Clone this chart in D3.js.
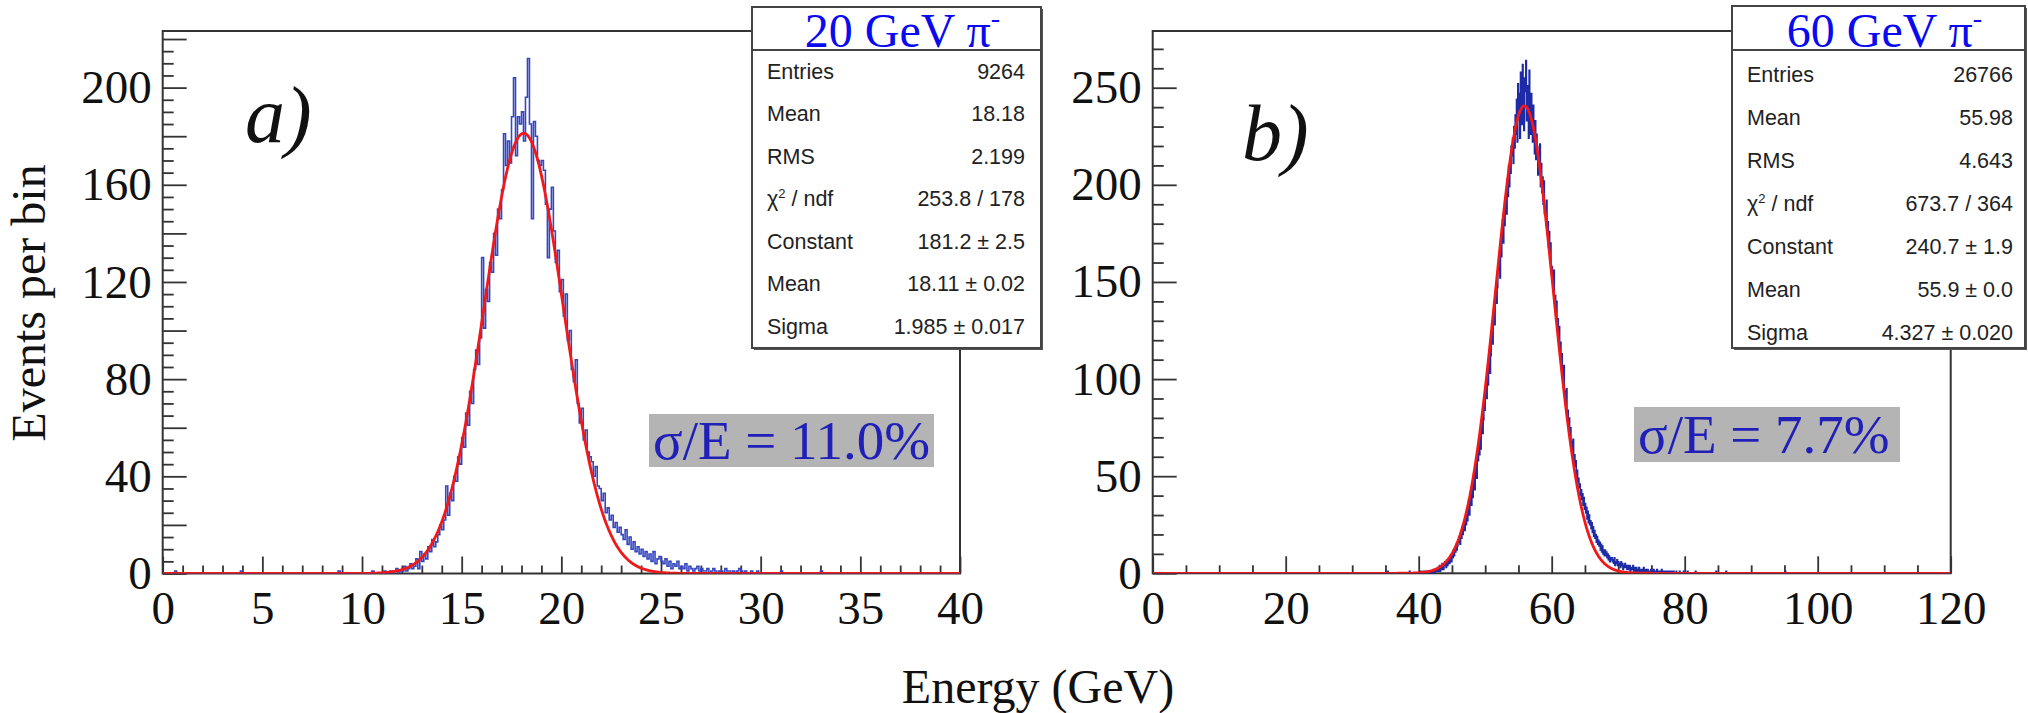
<!DOCTYPE html>
<html><head><meta charset="utf-8">
<script src="https://cdn.jsdelivr.net/npm/d3@7"></script>
<style>body{margin:0;background:#fff}svg{display:block}</style>
</head><body>
<svg id="c" width="2028" height="713"></svg>
<script>
// ---------------- DATA ----------------
const binWidth = 0.1;

// Panel a: 20 GeV pi-, bins of 0.1 GeV starting at 10.0 GeV
const histA_start = 10.0;
const histA_counts = [
 0,0,0,0,0,1,0,0,0,0,
 0,1,0,0,1,0,1,2,0,1,
 1,3,1,2,4,2,3,6,2,9,
 5,8,6,11,9,14,11,13,16,20,
 18,22,36,24,33,30,40,38,48,45,
 56,52,66,61,75,70,84,92,86,97,
 130,101,117,112,128,124,140,131,150,146,
 158,181,168,178,169,188,204,172,188,185,
 190,178,196,212,185,146,186,180,170,168,
 170,166,152,130,150,159,141,128,133,116,
 121,106,115,96,100,84,79,88,70,62,
 68,55,59,50,48,46,40,44,36,35,
 30,33,25,27,22,24,19,21,17,19,
 16,14,18,12,15,10,13,9,11,8,
 10,7,9,6,8,5,9,4,6,7,
 5,4,6,3,5,2,4,3,5,2,
 3,2,4,1,3,2,1,2,3,1,
 2,1,1,2,0,1,2,1,0,1,
 1,0,2,1,1,0,1,0,1,2,
 1,0,1,0,0,1,0,0,1,0
];
const histA_singles = [0.6, 3.9, 8.8, 31.0, 33.0];

// Panel b: 60 GeV pi-, bins of 0.1 GeV starting at 40.0 GeV
const histB_start = 40.0;
const histB_counts = [
 0,0,0,1,0,0,0,1,0,0,
 0,1,0,0,0,1,0,0,1,0,
 1,0,2,1,0,1,2,1,3,1,
 2,4,1,3,2,5,3,2,4,6,
 5,3,7,4,6,8,5,9,7,6,
 10,8,12,9,13,11,15,12,14,17,
 16,19,15,21,18,24,20,23,27,22,
 28,25,31,27,33,38,30,36,41,35,
 44,39,47,50,43,56,52,49,60,58,
 66,61,70,64,75,82,72,79,88,84,
 93,99,90,104,97,108,115,103,112,121,
 124,118,131,137,128,142,150,139,147,156,
 158,165,152,171,163,175,182,170,186,179,
 190,197,185,203,194,210,199,214,206,220,
 215,224,211,230,219,236,226,244,222,252,
 238,247,224,258,241,231,262,245,228,255,
 248,264,233,251,243,224,259,240,226,247,
 235,222,241,228,216,233,213,226,220,205,
 216,208,221,199,211,196,204,190,202,185,
 188,179,192,175,181,168,176,161,170,155,
 158,150,147,156,139,143,133,140,126,131,
 122,127,115,119,108,113,104,100,107,94,
 92,86,95,81,84,77,80,71,75,68,
 66,62,69,57,61,55,58,50,53,47,
 49,44,46,40,43,38,41,35,39,33,
 36,31,34,28,32,26,30,25,27,23,
 26,21,24,19,22,18,20,16,19,15,
 17,14,16,12,15,11,14,10,12,9,
 12,9,11,8,10,7,9,6,8,7,
 8,6,7,5,8,4,6,5,7,4,
 6,4,5,3,6,4,5,2,4,3,
 5,3,4,2,4,3,2,4,1,3,
 3,2,4,1,3,2,1,3,2,1,
 2,3,1,2,1,0,2,1,3,1,
 1,2,0,1,2,1,0,1,1,2,
 1,0,1,2,0,1,1,0,2,0,
 1,1,0,0,1,2,0,1,0,1,
 0,1,0,1,0,0,1,0,1,0,
 1,0,0,1,0,0,0,1,0,0,
 0,0,1,0,0,0,0,0,1,0,
 0,0,0,0,1,0,0,0,0,0,
 0,0,0,0,0,0,1,0,0,0
];
const histB_singles = [35.3, 38.6, 84.7, 86.2, 95.1];

// Gaussian fit parameters [Constant, Mean, Sigma] as printed in the stats boxes
const fitA = [181.2, 18.11, 1.985];
const fitB = [240.7, 55.9, 4.327];

// Axis ticks
const xLabelsA = [0,5,10,15,20,25,30,35,40];
const xLabelsB = [0,20,40,60,80,100,120];
const yLabelsA = [0,40,80,120,160,200];
const yLabelsB = [0,50,100,150,200,250];

// Stats boxes
const statNames = ["Entries","Mean","RMS","CHI","Constant","Mean","Sigma"];
const statsA = ["9264","18.18","2.199","253.8 / 178","181.2 \u00b1 2.5","18.11 \u00b1 0.02","1.985 \u00b1 0.017"];
const statsB = ["26766","55.98","4.643","673.7 / 364","240.7 \u00b1 1.9","55.9 \u00b1 0.0","4.327 \u00b1 0.020"];
const titleA = "20 GeV \u03c0";
const titleB = "60 GeV \u03c0";
const resA = "\u03c3/E = 11.0%";
const resB = "\u03c3/E = 7.7%";
const yTitle = "Events per bin";
const xTitle = "Energy (GeV)";

// ---------------- DRAWING ----------------
const svg = d3.select("#c");
const serif = "'Liberation Serif','Times New Roman',Times,serif";
const sans = "'Liberation Sans',Arial,Helvetica,sans-serif";
svg.append("rect").attr("width",2028).attr("height",713).attr("fill","#fff");

function buildBins(start, counts, singles, xmax){
  const n = Math.round(xmax/binWidth);
  const arr = new Array(n).fill(0);
  const i0 = Math.round(start/binWidth);
  counts.forEach((c,i)=>{ if(i0+i<n) arr[i0+i]=c; });
  singles.forEach(e=>{ arr[Math.floor(e/binWidth+1e-6)] += 1; });
  return arr;
}

const panels = [
  {xmax:40, ymax:223.3, left:162.7, right:960, top:31, bottom:573.5,
   bins: buildBins(histA_start, histA_counts, histA_singles, 40), fit: fitA,
   xLabels:xLabelsA, xMinor:1, yLabels:yLabelsA, yMajor:20, yMinor:5,
   letter:"a)", lx:245, ly:141.7, hcol:"#3447c0", hw:1.6,
   box:{x0:752,x1:1041,y0:7,y1:348,sep:50,row0:71,dr:42.5,tx:767,vx:1025,title:titleA, vals:statsA},
   res:{x0:649,x1:934,y0:414,y1:467,text:resA}},
  {xmax:120, ymax:279.2, left:1152.7, right:1950.7, top:31, bottom:573.3,
   bins: buildBins(histB_start, histB_counts, histB_singles, 120), fit: fitB,
   xLabels:xLabelsB, xMinor:5, yLabels:yLabelsB, yMajor:50, yMinor:10,
   letter:"b)", lx:1242, ly:160, hcol:"#1d2ca6", hw:1.5,
   box:{x0:1732,x1:2025,y0:6,y1:348,sep:50,row0:74,dr:43,tx:1747,vx:2013,title:titleB, vals:statsB},
   res:{x0:1634,x1:1900,y0:407,y1:462,text:resB}}
];

panels.forEach((p,pi)=>{
  const x = d3.scaleLinear().domain([0,p.xmax]).range([p.left,p.right]);
  const y = d3.scaleLinear().domain([0,p.ymax]).range([p.bottom,p.top]);
  const g = svg.append("g");

  const cid = "clip"+pi;
  svg.append("clipPath").attr("id",cid).append("rect")
    .attr("x",p.left).attr("y",p.top).attr("width",p.right-p.left).attr("height",p.bottom-p.top);

  // frame
  g.append("rect").attr("x",p.left).attr("y",p.top).attr("width",p.right-p.left)
    .attr("height",p.bottom-p.top).attr("fill","none").attr("stroke","#333").attr("stroke-width",2);

  const xm = d3.range(0, p.xmax+1e-9, p.xMinor).filter(v=>!p.xLabels.includes(v));
  const gxm = g.append("g").attr("transform",`translate(0,${p.bottom})`)
    .call(d3.axisBottom(x).tickValues(xm).tickSize(-8).tickFormat(""));
  const gx = g.append("g").attr("transform",`translate(0,${p.bottom})`)
    .call(d3.axisBottom(x).tickValues(p.xLabels).tickSize(-17).tickPadding(17).tickFormat(d3.format("d")));
  const ym = d3.range(0, p.ymax, p.yMinor).filter(v=> v % p.yMajor !== 0);
  const gym = g.append("g").attr("transform",`translate(${p.left},0)`)
    .call(d3.axisLeft(y).tickValues(ym).tickSize(-11).tickFormat(""));
  const yMaj = d3.range(0, p.ymax, p.yMajor);
  const gy = g.append("g").attr("transform",`translate(${p.left},0)`)
    .call(d3.axisLeft(y).tickValues(yMaj).tickSize(-24).tickPadding(11)
      .tickFormat(d=> p.yLabels.includes(d) ? d3.format("d")(d) : ""));
  [gxm,gx,gym,gy].forEach(a=>{
    a.select(".domain").remove();
    a.selectAll(".tick line").attr("stroke","#333").attr("stroke-width",1.8);
    a.selectAll("text").attr("font-family",serif).attr("font-size",47).attr("fill","#111");
  });

  // histogram (step outline)
  const pts = p.bins.map((c,i)=>[i*binWidth, c]);
  pts.push([p.xmax, p.bins[p.bins.length-1]]);
  const line = d3.line().x(d=>x(d[0])).y(d=>y(d[1])).curve(d3.curveStepAfter);
  g.append("path").attr("d", line(pts)).attr("fill","none")
    .attr("stroke", p.hcol).attr("stroke-width", p.hw)
    .attr("clip-path",`url(#${cid})`);

  // gaussian fit curve from the printed fit parameters
  const [C,M,S] = p.fit;
  const fx = d3.range(0, 1601).map(k=> k*p.xmax/1600);
  const fline = d3.line().x(d=>x(d)).y(d=>y(C*Math.exp(-0.5*((d-M)/S)**2)));
  g.append("path").attr("d", fline(fx)).attr("fill","none")
    .attr("stroke","#f01818").attr("stroke-width",2.8).attr("clip-path",`url(#${cid})`);

  // panel letter
  svg.append("text").attr("x",p.lx).attr("y",p.ly).text(p.letter)
    .attr("font-family",serif).attr("font-style","italic").attr("font-size",80).attr("fill","#111");

  // resolution box
  const r = p.res;
  svg.append("rect").attr("x",r.x0).attr("y",r.y0).attr("width",r.x1-r.x0).attr("height",r.y1-r.y0).attr("fill","#b4b4b4");
  svg.append("text").attr("x",r.x0+4).attr("y",(r.y0+r.y1)/2+18).text(r.text)
    .attr("font-family",serif).attr("font-size",55).attr("fill","#2020b8");

  // stats box
  const b = p.box;
  svg.append("rect").attr("x",b.x0+2).attr("y",b.y0+2).attr("width",b.x1-b.x0).attr("height",b.y1-b.y0).attr("fill","#555");
  svg.append("rect").attr("x",b.x0).attr("y",b.y0).attr("width",b.x1-b.x0).attr("height",b.y1-b.y0)
    .attr("fill","#fff").attr("stroke","#444").attr("stroke-width",2);
  svg.append("line").attr("x1",b.x0).attr("x2",b.x1).attr("y1",b.sep).attr("y2",b.sep).attr("stroke","#444").attr("stroke-width",2);
  const tt = svg.append("text").attr("x",(b.x0+b.x1)/2+6).attr("y",46.5).attr("text-anchor","middle")
    .attr("font-family",serif).attr("font-size",48).attr("fill","#0a0af0");
  tt.append("tspan").text(b.title);
  tt.append("tspan").attr("font-size",28).attr("dy",-20).text("-");
  statNames.forEach((nm,i)=>{
    const yy = b.row0 + i*b.dr + 7.5;
    const t = svg.append("text").attr("x",b.tx).attr("y",yy).attr("font-family",sans).attr("font-size",21.5).attr("fill","#222");
    if(nm==="CHI"){
      t.append("tspan").text("\u03c7");
      t.append("tspan").attr("font-size",13).attr("dy",-8).text("2");
      t.append("tspan").attr("dy",8).text(" / ndf");
    } else t.text(nm);
    svg.append("text").attr("x",b.vx).attr("y",yy).attr("text-anchor","end").attr("font-family",sans)
      .attr("font-size",21.5).attr("fill","#222").text(b.vals[i]);
  });
});

// axis titles
svg.append("text").attr("transform","translate(45,303) rotate(-90)").attr("text-anchor","middle")
  .attr("font-family",serif).attr("font-size",48).attr("fill","#111").text(yTitle);
svg.append("text").attr("x",1038).attr("y",703).attr("text-anchor","middle")
  .attr("font-family",serif).attr("font-size",48).attr("fill","#111").text(xTitle);
</script>
</body></html>
